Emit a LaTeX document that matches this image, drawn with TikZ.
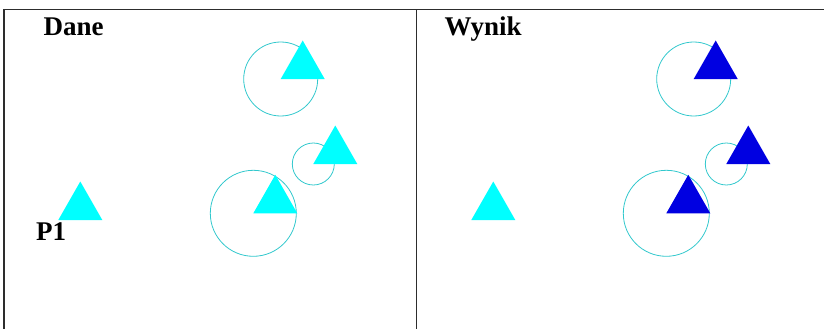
\documentclass[tikz,border=0pt]{standalone}
\usepackage{fontspec}
\setmainfont{Liberation Serif}
\definecolor{tricyan}{RGB}{0,255,255}
\definecolor{triblue}{RGB}{0,0,225}
\definecolor{ringcol}{RGB}{50,200,205}
\definecolor{framecol}{RGB}{45,45,45}
\tikzset{
  ring/.style={draw=ringcol, line width=0.8pt},
  frameline/.style={draw=framecol, line width=1.3pt},
  headtext/.style={font=\bfseries\fontsize{27}{27}\selectfont, anchor=base west, inner sep=0pt},
  tricy/.style={fill=tricyan},
  tribl/.style={fill=triblue},
}
\newcommand\mytri[2]{\fill[#1] (#2) -- ++(44,0) -- ++(-22,-38.5) -- cycle;}
\begin{document}
\begin{tikzpicture}[x=1pt,y=-1pt]
\useasboundingbox (0,0) rectangle (824,329);
% frame
\coordinate (tl) at (4,9.5);
\coordinate (tr) at (824,9.5);
\coordinate (bl) at (4,329);
\coordinate (mt) at (416.7,9.5);
\coordinate (mb) at (416.7,329);
\draw[frameline] (bl) -- (tl) -- (tr);
\draw[frameline] (mt) -- (mb);
% left panel
\node[headtext] (dane) at (43.5,36) {Dane};
\node[headtext] (p1) at (36,240) {P1};
\coordinate (a) at (280.7,79);
\coordinate (b) at (313.3,164);
\coordinate (c) at (253.3,213.3);
\coordinate (p) at (58.3,220);
\draw[ring] (a) circle[radius=37];
\draw[ring] (b) circle[radius=21];
\draw[ring] (c) circle[radius=43];
\mytri{tricy}{a}
\mytri{tricy}{b}
\mytri{tricy}{c}
\mytri{tricy}{p}
% right panel
\node[headtext] (wynik) at (444.5,36) {Wynik};
\coordinate (a2) at (693.7,79);
\coordinate (b2) at (726.3,164);
\coordinate (c2) at (666.3,213.3);
\coordinate (p2) at (471.3,220);
\draw[ring] (a2) circle[radius=37];
\draw[ring] (b2) circle[radius=21];
\draw[ring] (c2) circle[radius=43];
\mytri{tribl}{a2}
\mytri{tribl}{b2}
\mytri{tribl}{c2}
\mytri{tricy}{p2}
\end{tikzpicture}
\end{document}
